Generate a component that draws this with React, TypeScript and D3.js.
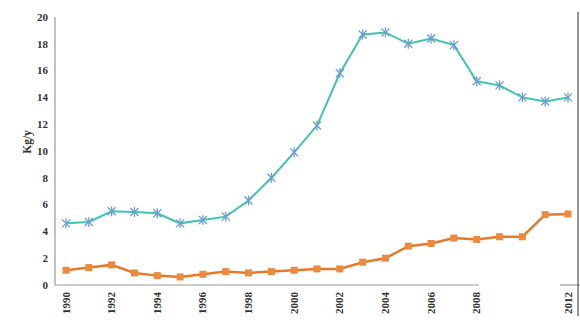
import React from "react";
import * as d3 from "d3";

const years = [1990,1991,1992,1993,1994,1995,1996,1997,1998,1999,2000,2001,2002,2003,2004,2005,2006,2007,2008,2009,2010,2011,2012];
const tealValues = [4.6,4.7,5.5,5.45,5.35,4.6,4.85,5.1,6.3,8.0,9.9,11.9,15.8,18.7,18.85,18.0,18.4,17.9,15.2,14.9,14.0,13.7,14.0];
const orangeValues = [1.1,1.3,1.5,0.9,0.7,0.6,0.8,1.0,0.9,1.0,1.1,1.2,1.2,1.7,2.0,2.9,3.1,3.5,3.4,3.6,3.6,5.25,5.3];
const yTicks = [0,2,4,6,8,10,12,14,16,18,20];
const xTickLabels = ["1990","1992","1994","1996","1998","2000","2002","2004","2006","2008","2012"];
const yLabel = "Kg/y";

const W = 580, H = 325;

export default function App() {
  const x = d3.scaleLinear().domain([1990, 2012]).range([66, 568]);
  const y = d3.scaleLinear().domain([0, 20]).range([285, 17]);
  const line = d3.line<number>().x((_, i) => x(years[i])).y(d => y(d));
  const font = "'Liberation Serif', 'DejaVu Serif', serif";
  const star = (cx: number, cy: number, k: number) => {
    const r = 4;
    return (
      <g key={k} stroke="#6c9cd6" strokeWidth={1.3}>
        <line x1={cx - r} y1={cy - r} x2={cx + r} y2={cy + r} />
        <line x1={cx - r} y1={cy + r} x2={cx + r} y2={cy - r} />
        <line x1={cx} y1={cy - r - 1} x2={cx} y2={cy + r + 1} />
      </g>
    );
  };
  return (
    <svg width={W} height={H} style={{ position: "absolute", left: 0, top: 0 }} fontFamily={font}>
      <rect width={W} height={H} fill="#fff" />
      <line x1={55} y1={17} x2={55} y2={285} stroke="#999" strokeWidth={1.2} />
      <line x1={55} y1={285} x2={479} y2={285} stroke="#999" strokeWidth={1.2} />
      <line x1={560} y1={285} x2={580} y2={285} stroke="#999" strokeWidth={1.2} />
      <line x1={578} y1={12} x2={578} y2={316} stroke="#555" strokeWidth={1.2} />
      {yTicks.map(t => (
        <text key={t} x={48} y={y(t)} dy="0.35em" textAnchor="end" fontSize={11} fontWeight="bold" fill="#333">{t}</text>
      ))}
      {xTickLabels.map(l => (
        <text key={l} transform={`translate(${x(+l) + 3.5},292) rotate(-90)`} textAnchor="end" fontSize={11} fontWeight="bold" fill="#333">{l}</text>
      ))}
      <text transform="translate(31,142) rotate(-90)" textAnchor="middle" fontSize={11.5} fontWeight="bold" fill="#333">{yLabel}</text>
      <path d={line(tealValues) || ""} fill="none" stroke="#3fc4b4" strokeWidth={2} />
      {tealValues.map((v, i) => star(x(years[i]), y(v), i))}
      <path d={line(orangeValues) || ""} fill="none" stroke="#e8782a" strokeWidth={2.5} />
      {orangeValues.map((v, i) => (
        <rect key={i} x={x(years[i]) - 3.5} y={y(v) - 3.5} width={7} height={7} fill="#ec8a3e" />
      ))}
    </svg>
  );
}
